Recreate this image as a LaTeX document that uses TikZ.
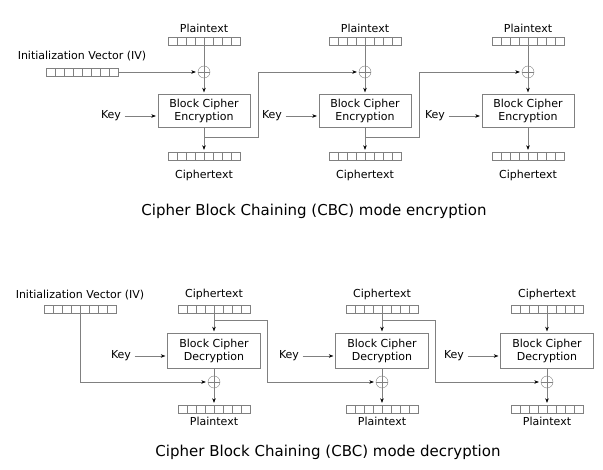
\documentclass[tikz,border=0pt]{standalone}
\usepackage{fontspec}
\setmainfont{DejaVu Sans}
\usetikzlibrary{arrows.meta,positioning}

\begin{document}
\begin{tikzpicture}[x=1pt,y=-1pt,
   font=\fontsize{11}{13}\selectfont,
   cellrow/.style={draw=gray,minimum width=72pt,minimum height=8pt,inner sep=0pt,
      path picture={\foreach \k in {1,...,7}
         \draw[gray] ([xshift=\k*9pt]path picture bounding box.south west) -- ([xshift=\k*9pt]path picture bounding box.north west);}},
   cipher/.style={draw=gray,minimum width=92pt,minimum height=33pt,align=center,inner sep=2pt},
   xor/.style={circle,draw=gray,minimum size=12pt,inner sep=0pt,
      path picture={\draw[gray] (path picture bounding box.north) -- (path picture bounding box.south)
         (path picture bounding box.west) -- (path picture bounding box.east);}},
   line/.style={draw=gray},
   arrow/.style={draw=gray,shorten >=2pt,-{Stealth[black,length=4.5pt,width=3.5pt]}},
   caption/.style={font=\fontsize{15}{17}\selectfont}]
   \useasboundingbox (0,0) rectangle (603,470);
   % encryption: one column per block
   \foreach \i/\x in {1/204,2/365,3/528} {
      \node[cellrow] (p\i) at (\x,41) {};
      \node[above=1pt of p\i] (pl\i) {Plaintext};
      \node[xor] (x\i) at (\x,72) {};
      \node[cipher] (e\i) at (\x,111) {Block Cipher\\Encryption};
      \node (k\i) at (\x-93,116) {Key};
      \node[cellrow] (c\i) at (\x,156) {};
      \node[below=6pt of c\i] (cl\i) {Ciphertext};
      \coordinate (t\i) at (\x,137);
      \draw[line] (p\i) -- (x\i);
      \draw[arrow] (x\i) -- (e\i);
      \draw[arrow] (k\i) -- (k\i -| e\i.west);
      \draw[arrow] (e\i) -- (c\i);
   }
   \node[cellrow] (iv) at (82,72) {};
   \node[above=3pt of iv] (ivl) {Initialization Vector (IV)};
   \draw[arrow] (iv) -- (x1);
   \foreach \i/\j in {1/2,2/3}
      \draw[arrow] (t\i) -- ++(54,0) |- (x\j);
   \node[caption] (title1) at (314,211) {Cipher Block Chaining (CBC) mode encryption};
   % decryption
   \foreach \i/\x in {1/214,2/382,3/547} {
      \node[cellrow] (dc\i) at (\x,309) {};
      \node[above=1pt of dc\i] (dcl\i) {Ciphertext};
      \node[cipher,minimum width=93pt,minimum height=35pt] (d\i) at (\x,351) {Block Cipher\\Decryption};
      \node (dk\i) at (\x-93,356) {Key};
      \node[xor] (dx\i) at (\x,382) {};
      \node[cellrow] (dp\i) at (\x,409) {};
      \node (dpl\i) at (\x,421) {Plaintext};
      \coordinate (s\i) at (\x,320);
      \draw[arrow] (dc\i) -- (d\i);
      \draw[arrow] (dk\i) -- (dk\i -| d\i.west);
      \draw[line] (d\i) -- (dx\i);
      \draw[arrow] (dx\i) -- (dp\i);
   }
   \node[cellrow] (div) at (80,309) {};
   \node[above=1pt of div] (divl) {Initialization Vector (IV)};
   \draw[arrow] (div) |- (dx1);
   \foreach \i/\j in {1/2,2/3}
      \draw[arrow] (s\i) -- ++(53,0) |- (dx\j);
   \node[caption] (title2) at (328,452) {Cipher Block Chaining (CBC) mode decryption};
\end{tikzpicture}
\end{document}
